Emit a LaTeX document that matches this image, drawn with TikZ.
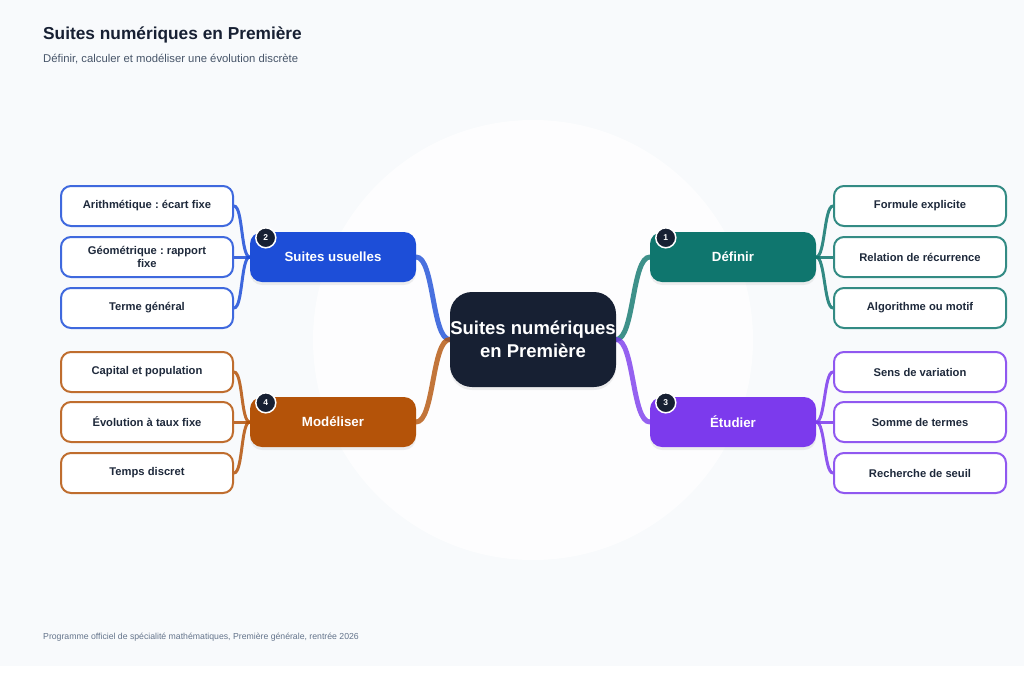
\documentclass[tikz,border=0pt]{standalone}
\usepackage{fontspec}
\setmainfont{Liberation Sans}
\frenchspacing
\usetikzlibrary{shadows}
\definecolor{bgc}{HTML}{F8FAFC}
\definecolor{navy}{HTML}{172033}
\definecolor{sub}{HTML}{475569}
\definecolor{foot}{HTML}{64748B}
\definecolor{leaftxt}{HTML}{1E293B}
\definecolor{cteal}{HTML}{0F766E}
\definecolor{cpurple}{HTML}{7C3AED}
\definecolor{cblue}{HTML}{1D4ED8}
\definecolor{corange}{HTML}{B45309}
\pgfdeclarelayer{bg}
\pgfdeclarelayer{conn}
\pgfsetlayers{bg,conn,main}
\tikzset{
  centerbox/.style={rectangle, rounded corners=22pt, fill=navy, minimum width=166pt, minimum height=95pt,
    text=white, font=\bfseries\fontsize{18.5}{23}\selectfont, align=center, inner sep=0pt,
    drop shadow={shadow xshift=0pt, shadow yshift=-3pt, opacity=0.12}},
  branchbox/.style={rectangle, rounded corners=12pt, fill=#1, minimum width=166pt, minimum height=50pt,
    text=white, font=\bfseries\fontsize{13.3}{16}\selectfont, inner sep=0pt,
    drop shadow={shadow xshift=0pt, shadow yshift=-3pt, opacity=0.12}},
  leafbox/.style={rectangle, rounded corners=10pt, fill=white, draw=#1, line width=2pt,
    minimum width=172pt, minimum height=40pt, text=leaftxt, align=center,
    font=\bfseries\fontsize{11.2}{13}\selectfont, inner sep=0pt},
  badge/.style={circle, fill=navy, draw=white, line width=1.5pt, minimum size=20pt, inner sep=0pt,
    text=white, font=\bfseries\fontsize{8.5}{9}\selectfont},
  mainconn/.style={draw=#1, draw opacity=0.8, line width=5pt, line cap=round},
  leafconn/.style={draw=#1, draw opacity=0.85, line width=3pt, line cap=round},
}
\begin{document}
\begin{tikzpicture}[x=1pt,y=-1pt]
\begin{pgfonlayer}{bg}
\fill[white] (0,0) rectangle (1024,683);
\fill[bgc] (0,0) rectangle (1024,666);
\fill[white, opacity=0.75] (533,340) circle (220);
\end{pgfonlayer}
\useasboundingbox (0,0) rectangle (1024,683);

\node[anchor=west, inner sep=0pt, text=navy, font=\bfseries\fontsize{17.3}{20}\selectfont] (title) at (43,35) {Suites numériques en Première};
\node[anchor=west, inner sep=0pt, text=sub, font=\fontsize{11.3}{13}\selectfont] (subtitle) at (43,59) {Définir, calculer et modéliser une évolution discrète};
\node[anchor=west, inner sep=0pt, text=foot, font=\fontsize{8.7}{10}\selectfont] (footer) at (43,637) {Programme officiel de spécialité mathématiques, Première générale, rentrée 2026};

\node[centerbox] (c) at (533,339.5) {Suites numériques\\en Première};

\node[branchbox=cteal] (b1) at (733,257) {Définir};
\node[branchbox=cblue] (b2) at (333,257) {Suites usuelles};
\node[branchbox=cpurple] (b3) at (733,422) {Étudier};
\node[branchbox=corange] (b4) at (333,422) {Modéliser};

\node[badge] (n1) at ([shift={(16,6)}]b1.north west) {1};
\node[badge] (n2) at ([shift={(16,6)}]b2.north west) {2};
\node[badge] (n3) at ([shift={(16,6)}]b3.north west) {3};
\node[badge] (n4) at ([shift={(16,6)}]b4.north west) {4};

\node[leafbox=cteal!85] (l11) at (920,206) {Formule explicite};
\node[leafbox=cteal!85] (l12) at (920,257) {Relation de récurrence};
\node[leafbox=cteal!85] (l13) at (920,308) {Algorithme ou motif};

\node[leafbox=cpurple!85] (l31) at (920,372) {Sens de variation};
\node[leafbox=cpurple!85] (l32) at (920,422) {Somme de termes};
\node[leafbox=cpurple!85] (l33) at (920,473) {Recherche de seuil};

\node[leafbox=cblue!85] (l21) at (147,206) {Arithmétique : écart fixe};
\node[leafbox=cblue!85] (l22) at (147,257) {Géométrique : rapport\\fixe};
\node[leafbox=cblue!85] (l23) at (147,308) {Terme général};

\node[leafbox=corange!85] (l41) at (147,372) {Capital et population};
\node[leafbox=corange!85] (l42) at (147,422) {Évolution à taux fixe};
\node[leafbox=corange!85] (l43) at (147,473) {Temps discret};

\begin{pgfonlayer}{conn}
\draw[mainconn=cteal] (c.east) .. controls +(18,0) and +(-18,0) .. (b1.west);
\draw[mainconn=cpurple] (c.east) .. controls +(18,0) and +(-18,0) .. (b3.west);
\draw[mainconn=cblue] (c.west) .. controls +(-18,0) and +(18,0) .. (b2.east);
\draw[mainconn=corange] (c.west) .. controls +(-18,0) and +(18,0) .. (b4.east);

\foreach \l in {l11,l12,l13} \draw[leafconn=cteal] (b1.east) .. controls +(9,0) and +(-9,0) .. (\l.west);
\foreach \l in {l31,l32,l33} \draw[leafconn=cpurple] (b3.east) .. controls +(9,0) and +(-9,0) .. (\l.west);
\foreach \l in {l21,l22,l23} \draw[leafconn=cblue] (b2.west) .. controls +(-9,0) and +(9,0) .. (\l.east);
\foreach \l in {l41,l42,l43} \draw[leafconn=corange] (b4.west) .. controls +(-9,0) and +(9,0) .. (\l.east);
\end{pgfonlayer}
\end{tikzpicture}
\end{document}
